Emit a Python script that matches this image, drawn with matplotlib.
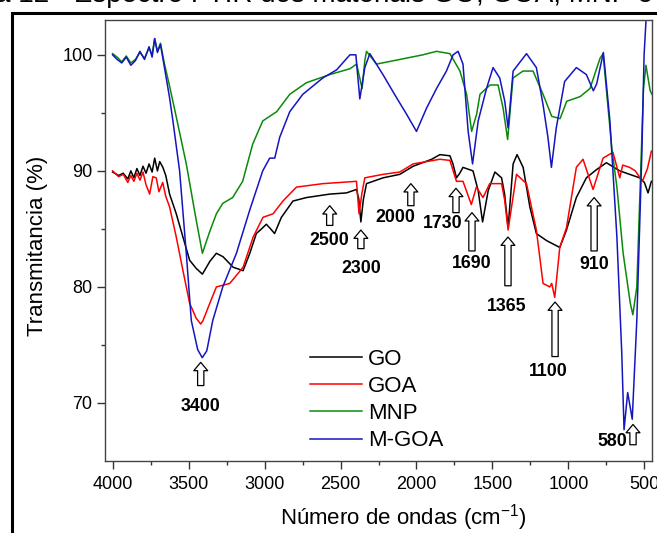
import matplotlib.pyplot as plt
from matplotlib.patches import Rectangle

plt.rcParams['font.family'] = ['Liberation Sans', 'DejaVu Sans']
plt.rcParams['mathtext.default'] = 'regular'

# GO (preto)
go_x = [4000, 3960, 3930, 3900, 3880, 3860, 3840, 3820, 3800, 3780, 3760, 3740, 3723, 3705, 3690,
        3669, 3650, 3625, 3581, 3537, 3493, 3450, 3409, 3360, 3317, 3273, 3207, 3141, 3097, 3054,
        3020, 2988, 2960, 2934, 2889, 2813, 2724, 2570, 2461, 2395, 2380, 2366, 2350, 2329, 2220,
        2110, 2022, 1900, 1846, 1780, 1760, 1737, 1715, 1694, 1628, 1594, 1565, 1528, 1484, 1440,
        1420, 1397, 1364, 1338, 1298, 1254, 1211, 1145, 1057, 1013, 948, 882, 816, 750, 700, 662,
        597, 531, 500, 476, 454]
go_y = [89.9, 89.6, 89.8, 89.3, 90.0, 89.4, 90.2, 89.6, 90.4, 89.8, 90.6, 89.9, 91.1, 90.0, 90.8,
        90.3, 89.6, 88.0, 86.3, 84.3, 82.3, 81.6, 81.1, 82.2, 82.9, 82.6, 81.7, 81.4, 82.9, 84.6,
        85.0, 85.4, 85.0, 84.6, 86.0, 87.4, 87.7, 88.0, 88.1, 88.4, 87.6, 85.6, 87.5, 88.9, 89.4,
        89.7, 90.4, 91.0, 91.4, 91.3, 90.6, 89.4, 89.8, 90.3, 90.0, 88.3, 85.6, 88.3, 89.9, 89.4,
        88.0, 85.1, 90.6, 91.4, 90.3, 86.9, 84.6, 84.0, 83.4, 84.9, 87.7, 89.4, 90.1, 90.7, 90.3,
        90.0, 89.7, 89.4, 89.0, 88.1, 89.1]

# GOA (vermelho)
goa_x = [4000, 3960, 3930, 3900, 3880, 3860, 3840, 3820, 3800, 3780, 3756, 3735, 3713, 3695, 3670,
         3650, 3625, 3581, 3537, 3493, 3450, 3420, 3405, 3360, 3317, 3229, 3141, 3075, 3010, 2944,
         2879, 2790, 2616, 2504, 2395, 2378, 2360, 2340, 2220, 2110, 2022, 1846, 1780, 1737, 1694,
         1639, 1606, 1562, 1518, 1440, 1420, 1397, 1342, 1276, 1211, 1167, 1123, 1110, 1090, 1057,
         1013, 948, 904, 838, 772, 707, 662, 643, 597, 560, 513, 480, 454]
goa_y = [90.0, 89.5, 89.7, 89.0, 89.6, 89.1, 89.8, 89.2, 89.9, 88.8, 88.0, 89.5, 89.4, 88.2, 89.0,
         87.8, 86.9, 84.3, 81.4, 78.6, 77.3, 76.8, 77.1, 78.6, 80.0, 80.3, 81.7, 84.3, 86.0, 86.3,
         87.4, 88.6, 88.9, 89.0, 89.1, 86.3, 88.0, 89.4, 89.7, 89.9, 90.6, 91.0, 90.9, 89.1, 89.1,
         87.1, 88.6, 87.7, 88.9, 88.9, 87.5, 84.9, 89.7, 88.9, 84.9, 80.3, 80.0, 80.3, 79.1, 83.4,
         85.1, 90.3, 91.0, 88.4, 91.1, 91.6, 89.4, 90.5, 90.3, 90.0, 89.1, 90.2, 91.7]

# MNP (verde)
mnp_x = [4000, 3970, 3940, 3910, 3880, 3850, 3820, 3790, 3760, 3740, 3723, 3705, 3685, 3660,
         3625, 3590, 3515, 3449, 3409, 3360, 3317, 3275, 3210, 3144, 3078, 3012, 2920, 2834,
         2724, 2570, 2438, 2394, 2358, 2340, 2329, 2263, 2110, 1958, 1868, 1780, 1714, 1670,
         1637, 1604, 1582, 1516, 1463, 1430, 1400, 1365, 1299, 1233, 1167, 1110, 1055, 1011,
         923, 858, 792, 772, 715, 681, 640, 593, 576, 550, 528, 506, 490, 462, 450]
mnp_y = [100.1, 99.8, 99.4, 99.9, 99.3, 99.6, 100.2, 99.7, 100.6, 100.0, 101.4, 100.3, 101.0, 99.3,
         97.3, 95.2, 90.6, 85.7, 82.9, 84.8, 86.3, 87.2, 87.7, 89.1, 92.3, 94.3, 95.1, 96.6,
         97.6, 98.3, 98.8, 99.2, 97.1, 99.5, 100.3, 99.2, 99.6, 100.0, 100.3, 100.1, 98.6, 96.6,
         93.4, 94.9, 96.6, 97.4, 97.4, 95.4, 92.7, 98.0, 98.6, 98.6, 96.6, 94.7, 94.5, 96.0,
         96.4, 97.1, 99.7, 100.1, 92.0, 88.6, 82.9, 78.6, 77.6, 80.0, 88.6, 97.1, 99.1, 96.9, 96.6]

# M-GOA (azul)
mgoa_x = [4000, 3970, 3940, 3910, 3880, 3850, 3820, 3790, 3760, 3740, 3723, 3705, 3685, 3660,
          3625, 3603, 3559, 3515, 3482, 3440, 3410, 3380, 3341, 3275, 3185, 3098, 3012, 2966,
          2933, 2900, 2834, 2748, 2617, 2526, 2438, 2399, 2373, 2340, 2307, 2221, 2131, 2066,
          2000, 1934, 1868, 1803, 1759, 1726, 1694, 1660, 1631, 1594, 1539, 1496, 1452, 1419,
          1397, 1364, 1276, 1211, 1167, 1135, 1112, 1080, 1025, 948, 882, 836, 814, 770, 727,
          681, 649, 634, 610, 580, 550, 517, 502, 485, 450]
mgoa_y = [100.0, 99.6, 99.3, 99.8, 99.1, 99.5, 100.3, 99.6, 100.7, 99.8, 101.4, 100.2, 100.9, 99.0,
          96.3, 94.3, 90.0, 82.9, 77.1, 74.6, 73.9, 74.5, 77.1, 80.0, 82.9, 86.6, 90.0, 91.1,
          91.1, 92.9, 95.1, 96.6, 98.0, 98.7, 100.0, 100.0, 96.2, 98.9, 100.1, 98.3, 96.3, 94.9,
          93.4, 95.4, 97.1, 98.6, 100.0, 100.3, 99.2, 93.4, 90.6, 94.3, 97.1, 98.9, 98.0, 96.0,
          93.7, 98.6, 100.1, 98.9, 95.7, 92.9, 90.3, 93.7, 97.7, 98.9, 98.3, 96.9, 97.5, 100.2, 94.3,
          84.3, 74.3, 67.7, 70.9, 68.6, 77.1, 91.4, 100.0, 104.0, 105.0]

series = [('GO', go_x, go_y, '#000000'),
          ('GOA', goa_x, goa_y, '#ff0000'),
          ('MNP', mnp_x, mnp_y, '#0a8a0a'),
          ('M-GOA', mgoa_x, mgoa_y, '#1515c0')]

# picos marcados: (rotulo, x seta, ponta, cauda, x texto, y texto)
picos = [('3400', 3420, 73.5, 71.5, 3420, 69.7),
         ('2500', 2571, 87.0, 85.3, 2571, 84.0),
         ('2300', 2366, 84.9, 83.3, 2366, 81.6),
         ('2000', 2037, 88.9, 87.0, 2142, 86.0),
         ('1730', 1740, 88.5, 86.4, 1826, 85.5),
         ('1690', 1635, 86.4, 83.1, 1635, 82.0),
         ('1365', 1398, 84.3, 80.1, 1404, 78.3),
         ('1100', 1088, 78.7, 74.0, 1135, 72.7),
         ('910', 831, 87.7, 83.1, 831, 81.9),
         ('580', 575, 68.15, 66.4, 713, 66.7)]

fig = plt.figure(figsize=(6.57, 5.33), dpi=100)
ax = fig.add_axes([105 / 657, 1 - 461 / 533, 547 / 657, 441 / 533])

for nome, x, y, cor in series:
    ax.plot(x, y, color=cor, lw=1.1, label=nome)

for txt, xa, tip, tail, xt, yt in picos:
    ax.annotate('', xy=(xa, tip), xytext=(xa, tail),
                arrowprops=dict(arrowstyle='simple,head_width=1.0,head_length=0.6,tail_width=0.45',
                                fc='white', ec='black', lw=0.9, shrinkA=0, shrinkB=0),
                annotation_clip=False)
    ax.text(xt, yt, txt, fontsize=12.8, fontweight='bold', ha='center', va='center')

ax.set_xlim(4050, 450)
ax.set_ylim(65, 103)
ax.set_xticks([4000, 3500, 3000, 2500, 2000, 1500, 1000, 500])
ax.set_xticks([3750, 3250, 2750, 2250, 1750, 1250, 750], minor=True)
ax.set_yticks([70, 80, 90, 100])
ax.set_yticks([75, 85, 95], minor=True)
ax.tick_params(which='major', length=5.5, width=1, labelsize=13, color='#333333')
ax.tick_params(axis='x', which='major', pad=5)
ax.tick_params(which='minor', length=3, width=1, color='#333333')
for s in ax.spines.values():
    s.set_color('#444444')
    s.set_linewidth(1)

ax.set_xlabel('Número de ondas (cm$^{-1}$)', fontsize=16)
ax.set_ylabel('Transmitancia (%)', fontsize=16)
ax.xaxis.set_label_coords(0.545, -0.093)
ax.yaxis.set_label_coords(-0.105, 0.4875)

ax.legend(loc='center left', bbox_to_anchor=(0.375, 0.138), frameon=False, fontsize=16,
          handlelength=2.35, handletextpad=0.27, labelspacing=0.28, borderaxespad=0,
          borderpad=0)

# moldura e legenda da figura (cortadas)
fig.patches.append(Rectangle((12 / 657, -0.1), 1.2, 1.1 - 13 / 533, transform=fig.transFigure,
                             fill=False, ec='black', lw=2.2))
fig.text(-68 / 657, 1 - 2 / 533, 'Figura 12 - Espectro FTIR dos materiais GO, GOA, MNP e M-GOA',
         fontsize=20, ha='left', va='baseline')

fig.savefig('out.png', dpi=100)
